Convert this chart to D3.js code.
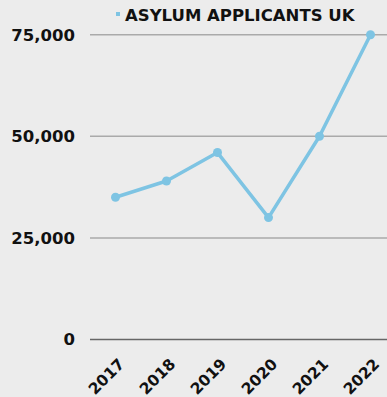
<!DOCTYPE html>
<html>
<head>
<meta charset="utf-8">
<script src="https://cdn.jsdelivr.net/npm/d3@7"></script>
<style>
  html, body { margin: 0; padding: 0; background: #ececec; }
  svg { display: block; }
  text { font-family: "DejaVu Sans", sans-serif; font-weight: bold; fill: #111; }
</style>
</head>
<body>
<div id="chart"></div>
<script>
const years = ["2017", "2018", "2019", "2020", "2021", "2022"];
const applicants = [35000, 39000, 46000, 30000, 50000, 75000];
const yTicks = [0, 25000, 50000, 75000];
const seriesName = "ASYLUM APPLICANTS UK";

const W = 387, H = 397;
const svg = d3.select("#chart").append("svg").attr("width", W).attr("height", H);
svg.append("rect").attr("width", W).attr("height", H).attr("fill", "#ececec");

const x = d3.scalePoint().domain(years).range([90, 396]).padding(0.5);
const y = d3.scaleLinear().domain([0, 75000]).range([339.5, 34.7]);

// gridlines
svg.append("g").selectAll("line").data(yTicks).join("line")
  .attr("x1", 90).attr("x2", W)
  .attr("y1", d => y(d)).attr("y2", d => y(d))
  .attr("stroke", d => d === 0 ? "#666" : "#aaa")
  .attr("stroke-width", 1.5);

// y labels
const fmt = d3.format(",");
svg.append("g").selectAll("text").data(yTicks).join("text")
  .attr("x", 75).attr("y", d => y(d))
  .attr("dy", "0.36em")
  .attr("text-anchor", "end")
  .style("font-size", "16.5px")
  .text(d => fmt(d));

// x labels
svg.append("g").selectAll("text").data(years).join("text")
  .attr("transform", d => `translate(${x(d) + 10},365) rotate(-45)`)
  .attr("text-anchor", "end")
  .style("font-size", "15.5px")
  .text(d => d);

// line
const data = years.map((yr, i) => ({ yr, v: applicants[i] }));
svg.append("path").datum(data)
  .attr("fill", "none")
  .attr("stroke", "#7ec4e3")
  .attr("stroke-width", 3.5)
  .attr("stroke-linejoin", "round")
  .attr("d", d3.line().x(d => x(d.yr)).y(d => y(d.v)));

svg.append("g").selectAll("circle").data(data).join("circle")
  .attr("cx", d => x(d.yr)).attr("cy", d => y(d.v))
  .attr("r", 4.5).attr("fill", "#7ec4e3");

// legend
svg.append("rect").attr("x", 116).attr("y", 12).attr("width", 4).attr("height", 4).attr("fill", "#7ec4e3");
svg.append("text").attr("x", 125).attr("y", 21)
  .style("font-size", "16.5px")
  .text(seriesName);
</script>
</body>
</html>
